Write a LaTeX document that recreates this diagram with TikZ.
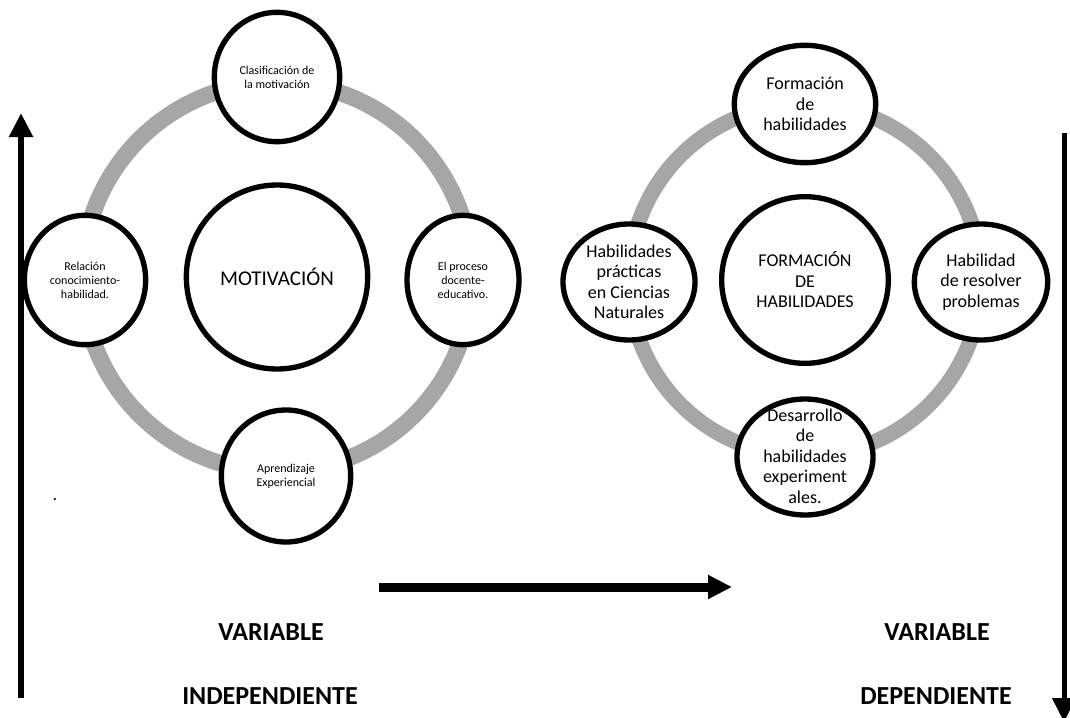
\documentclass[tikz,border=0pt]{standalone}
\usepackage{fontspec}
\setmainfont{Carlito}
\usetikzlibrary{shapes.geometric, arrows.meta}
\definecolor{ringgray}{HTML}{A6A6A6}

\begin{document}
\begin{tikzpicture}[
		x=0.75pt, y=-0.75pt, % pixel grid, y runs downwards
		>={Triangle[length=18pt, width=17pt]}, % Arrow style
		bubble/.style={draw, ellipse, line width=4pt, fill=white, inner sep=0pt, align=center},
		small/.style={font=\fontsize{9}{10.5}\selectfont},
		big/.style={font=\fontsize{13.5}{15.4}\selectfont},
		ring/.style={draw=ringgray, line width=12.5pt},
		heading/.style={font=\fontsize{19.5}{22}\selectfont\bfseries}
	]

	\clip (0,0) rectangle (1070,717);

	% Independent variable: hub and ring
	\node[bubble, minimum width=136pt, minimum height=138pt, font=\fontsize{15.75}{18}\selectfont] (motiv) at (277,277) {MOTIVACIÓN};
	\draw[ring] (motiv.center) circle[radius=146pt];

	% Satellites round the hub
	\node[bubble, small, minimum width=94pt, minimum height=97pt] (clasif) at (277,77) {Clasificación de\\la motivación};
	\node[bubble, small, minimum width=91pt, minimum height=97pt] (relacion) at (85,280) {Relación\\conocimiento-\\habilidad.};
	\node[bubble, small, minimum width=84pt, minimum height=97pt] (proceso) at (463,280) {El proceso\\docente-\\educativo.};
	\node[bubble, small, minimum width=97pt, minimum height=99pt] (aprendizaje) at (286,476) {Aprendizaje\\Experiencial};

	% Dependent variable: hub and ring
	\node[bubble, big, minimum width=125pt, minimum height=125pt] (formacion) at (805,280) {FORMACIÓN\\DE\\HABILIDADES};
	\draw[ring, line width=11.5pt] (formacion.center) circle[radius=132pt];

	% Satellites round the hub
	\node[bubble, big, minimum width=106pt, minimum height=88pt] (formhab) at (805,104) {Formación\\de\\habilidades};
	\node[bubble, big, minimum width=99pt, minimum height=87pt] (practicas) at (629,282) {Habilidades\\prácticas\\en Ciencias\\Naturales};
	\node[bubble, big, minimum width=100pt, minimum height=87pt] (resolver) at (981,282) {Habilidad\\de resolver\\problemas};
	\node[bubble, big, minimum width=102pt, minimum height=87pt] (desarrollo) at (805,457) {\smash{\raisebox{-4.5pt}{\begin{tabular}{@{}c@{}}Desarrollo\\de\\habilidades\\experiment\\ales.\end{tabular}}}};

	% Stray dot
	\node[big, inner sep=0pt] (dot) at (55,500) {.};

	% Side arrows
	\coordinate (indepfoot) at (21,698);
	\coordinate (indephead) at (21,113);
	\draw[->, line width=5pt] (indepfoot) -- (indephead);

	\coordinate (deptop) at (1064,133);
	\coordinate (depfoot) at (1064,722);
	\draw[->, line width=3.75pt] (deptop) -- (depfoot);

	% Arrow from one variable to the other
	\coordinate (flowstart) at (379,587);
	\coordinate (flowend) at (732,587);
	\draw[->, line width=6.75pt] (flowstart) -- (flowend);

	% Labels
	\node[heading] (varindep) at (271,632) {VARIABLE};
	\node[heading] (indep) at (270,696) {INDEPENDIENTE};
	\node[heading] (vardep) at (937,632) {VARIABLE};
	\node[heading] (dep) at (936,696) {DEPENDIENTE};

\end{tikzpicture}
\end{document}
